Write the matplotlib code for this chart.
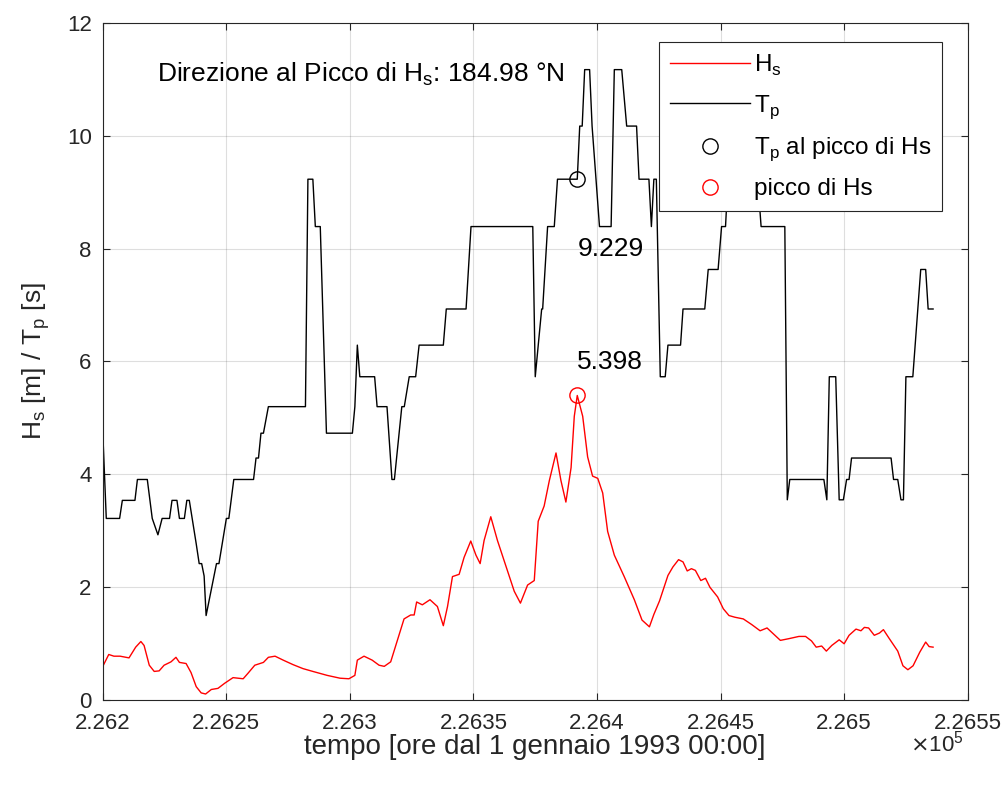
import numpy as np
import matplotlib
matplotlib.use("Agg")
import matplotlib.pyplot as plt
from matplotlib.ticker import FuncFormatter, MultipleLocator

plt.rcParams['font.family'] = ['Liberation Sans', 'DejaVu Sans']

# Hs serie (ore dal 1 gennaio 1993, metri)
t_hs = [226200, 226202.4, 226204.5, 226207, 226210.6, 226213.3, 226215.4, 226216.7,
        226218.8, 226220.8, 226222.8, 226224.8, 226227.6, 226229.6, 226231, 226233.7,
        226235.7, 226237.8, 226239.8, 226241.6, 226243.9, 226246.6, 226249.3, 226252.7,
        226256.8, 226258.8, 226261.5, 226265, 226267, 226269.7, 226273, 226277,
        226281, 226285, 226290.8, 226296, 226299.6, 226302, 226303, 226305.7,
        226309, 226311.8, 226313.9, 226316.5, 226319.2, 226321.9, 226324.6, 226326,
        226327, 226329.3, 226332.4, 226335.4, 226337.8, 226339.5, 226341.5, 226344.2,
        226346.2, 226348.9, 226351, 226352.7, 226354.3, 226357, 226359.7, 226363.1,
        226366.5, 226369, 226371.9, 226374.6, 226376.2, 226378.6, 226380.7, 226383.4,
        226385.4, 226387.4, 226389.5, 226390.8, 226392, 226394.2, 226396.2, 226398.2,
        226400.3, 226402.3, 226404.3, 226407, 226411, 226415.1, 226418.2, 226421.2,
        226423, 226425.3, 226428.7, 226430.7, 226433, 226434.8, 226436.5, 226438.2,
        226439.8, 226442, 226443.9, 226445.7, 226448.8, 226451.1, 226453.4, 226455.8,
        226459.2, 226462.6, 226466, 226468.8, 226471, 226474.2, 226477.6, 226481.7,
        226484.4, 226486.8, 226488.7, 226490.9, 226492.8, 226495, 226498, 226500,
        226502, 226504.8, 226506.8, 226508.2, 226509.9, 226512.2, 226514.3, 226515.9,
        226518.3, 226521.7, 226523.8, 226525.8, 226527.9, 226530.6, 226533, 226534.4,
        226536]
hs = [0.60, 0.81, 0.78, 0.78, 0.75, 0.94, 1.04, 0.97,
      0.62, 0.51, 0.52, 0.62, 0.68, 0.76, 0.67, 0.65,
      0.49, 0.24, 0.13, 0.11, 0.19, 0.21, 0.30, 0.40,
      0.38, 0.48, 0.62, 0.67, 0.76, 0.78, 0.71, 0.63,
      0.56, 0.51, 0.44, 0.39, 0.38, 0.44, 0.71, 0.78,
      0.71, 0.62, 0.60, 0.68, 1.06, 1.44, 1.51, 1.51,
      1.74, 1.69, 1.78, 1.66, 1.32, 1.66, 2.19, 2.23,
      2.53, 2.82, 2.57, 2.42, 2.83, 3.25, 2.83, 2.38,
      1.93, 1.72, 2.04, 2.12, 3.17, 3.44, 3.89, 4.38,
      3.89, 3.51, 4.12, 5.03, 5.398, 5.03, 4.31, 3.97,
      3.93, 3.67, 2.99, 2.57, 2.19, 1.78, 1.42, 1.30,
      1.52, 1.76, 2.21, 2.36, 2.49, 2.45, 2.29, 2.33,
      2.30, 2.12, 2.16, 2.00, 1.83, 1.62, 1.50, 1.47,
      1.44, 1.34, 1.23, 1.28, 1.19, 1.06, 1.09, 1.13,
      1.13, 1.05, 0.94, 0.96, 0.87, 0.97, 1.07, 1.00,
      1.15, 1.26, 1.23, 1.29, 1.28, 1.15, 1.19, 1.25,
      1.09, 0.87, 0.61, 0.54, 0.61, 0.85, 1.03, 0.95,
      0.94]

# Tp serie (secondi)
t_tp = [226200, 226201.4, 226206.8, 226207.9, 226213, 226214, 226218, 226220,
        226222.3, 226224, 226227, 226228, 226230, 226231, 226233, 226234,
        226235, 226237.8, 226239, 226240, 226241, 226241.8, 226246, 226247,
        226250, 226251, 226253, 226261, 226262, 226263, 226264, 226265,
        226267, 226282, 226283, 226285, 226286, 226288, 226290.5, 226301,
        226302, 226303, 226304, 226310, 226311, 226315, 226317, 226318,
        226321, 226322, 226324, 226326.6, 226328, 226337.8, 226339, 226347,
        226349, 226374, 226375, 226377.6, 226378, 226380, 226382.7, 226384,
        226392, 226393, 226394, 226395, 226397, 226398, 226401, 226405.7,
        226407, 226410, 226412, 226416, 226417, 226421, 226422, 226423,
        226424, 226425.6, 226427.6, 226428.7, 226433.8, 226434.8, 226443.6, 226445,
        226449, 226450.4, 226452, 226453, 226465, 226466.4, 226476, 226477,
        226478, 226491.8, 226493, 226494, 226496.6, 226498, 226499.7, 226501,
        226502, 226503, 226519, 226520, 226521.7, 226523, 226524, 226525,
        226527.8, 226531, 226533, 226534, 226536]
tp = [4.73, 3.22, 3.22, 3.54, 3.54, 3.91, 3.91, 3.22,
      2.93, 3.22, 3.22, 3.54, 3.54, 3.22, 3.22, 3.54,
      3.54, 2.77, 2.42, 2.42, 2.20, 1.50, 2.42, 2.42,
      3.22, 3.22, 3.91, 3.91, 4.29, 4.29, 4.73, 4.73,
      5.20, 5.20, 9.229, 9.229, 8.39, 8.39, 4.73, 4.73,
      5.20, 6.29, 5.73, 5.73, 5.20, 5.20, 3.91, 3.91,
      5.20, 5.20, 5.73, 5.73, 6.29, 6.29, 6.93, 6.93,
      8.39, 8.39, 5.73, 6.93, 6.93, 8.39, 8.39, 9.229,
      9.229, 10.17, 10.17, 11.17, 11.17, 10.17, 8.39, 8.39,
      11.17, 11.17, 10.17, 10.17, 9.229, 9.229, 8.39, 9.229,
      9.229, 5.73, 5.73, 6.29, 6.29, 6.93, 6.93, 7.63,
      7.63, 8.39, 8.39, 9.229, 9.229, 8.39, 8.39, 3.55,
      3.91, 3.91, 3.55, 5.73, 5.73, 3.55, 3.55, 3.91,
      3.91, 4.29, 4.29, 3.91, 3.91, 3.55, 3.55, 5.73,
      5.73, 7.63, 7.63, 6.93, 6.93]

t_peak = 226392
hs_peak = 5.398
tp_peak = 9.229
dir_peak = 184.98

fig = plt.figure(figsize=(10.08, 7.85), dpi=100)
ax = fig.add_axes([0.102, 0.108, 0.858, 0.863])

ax.plot(t_hs, hs, color='red', lw=1.0, label=r'H$_\mathregular{s}$')
ax.plot(t_tp, tp, color='black', lw=1.0, label=r'T$_\mathregular{p}$')
ax.plot(t_peak, tp_peak, 'o', ms=11, mfc='none', mec='black', mew=1.0,
        label=r'T$_\mathregular{p}$ al picco di Hs')
ax.plot(t_peak, hs_peak, 'o', ms=11, mfc='none', mec='red', mew=1.0,
        label='picco di Hs')

ax.text(t_peak, tp_peak - 1.23, f'{tp_peak:.3f}', fontsize=19, ha='left', va='center')
ax.text(t_peak, hs_peak + 0.6, f'{hs_peak:.3f}', fontsize=19, ha='left', va='center')
ax.text(226222, 11.08, r'Direzione al Picco di H$_\mathregular{s}$: ' + f'{dir_peak:.2f} °N',
        fontsize=19, ha='left', va='center')

ax.set_xlim(226200, 226550)
ax.set_ylim(0, 12)
ax.xaxis.set_major_locator(MultipleLocator(50))
ax.yaxis.set_major_locator(MultipleLocator(2))
ax.xaxis.set_major_formatter(FuncFormatter(lambda v, p: f'{v/1e5:g}'))
ax.text(0.995, -0.064, r'$\times$10$^\mathregular{5}$', transform=ax.transAxes,
        fontsize=16, color='#262626', ha='right', va='center')

ax.grid(True, color='#262626', alpha=0.15, lw=0.8)
ax.tick_params(direction='in', length=5, labelsize=16, colors='#262626',
               top=True, right=True)
ax.tick_params(axis='x', pad=9)
ax.tick_params(axis='y', pad=8)
for s in ax.spines.values():
    s.set_color('#262626')
    s.set_linewidth(0.8)

ax.set_xlabel('tempo [ore dal 1 gennaio 1993 00:00]', fontsize=20, color='#262626',
              labelpad=0)
ax.set_ylabel(r'H$_\mathregular{s}$ [m] / T$_\mathregular{p}$ [s]', fontsize=19,
              color='#262626', labelpad=11)

leg = ax.legend(loc='upper right', bbox_to_anchor=(0.970, 0.972), fontsize=17.5,
                frameon=True, fancybox=False, framealpha=1, edgecolor='#262626',
                handlelength=3.3, handletextpad=0.15, borderpad=0.45,
                labelspacing=0.62, borderaxespad=0)
leg.get_frame().set_linewidth(0.8)

fig.savefig('out.png', dpi=100)
